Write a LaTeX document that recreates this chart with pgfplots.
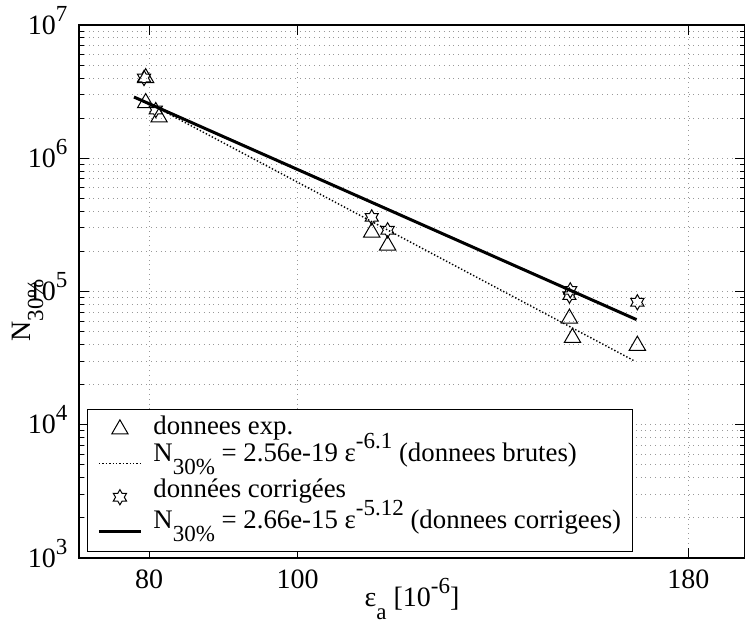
\documentclass[border=0pt]{standalone}
\usepackage{fontspec}
\setmainfont{Liberation Serif}
\usepackage{pgfplots}
\pgfplotsset{compat=1.18}

% six-pointed star outline (matlab 'hexagram')
\pgfdeclareplotmark{hexagram}{%
  \pgfpathmoveto{\pgfpointpolar{90}{\pgfplotmarksize}}%
  \pgfpathlineto{\pgfpointpolar{120}{0.577\pgfplotmarksize}}%
  \pgfpathlineto{\pgfpointpolar{150}{\pgfplotmarksize}}%
  \pgfpathlineto{\pgfpointpolar{180}{0.577\pgfplotmarksize}}%
  \pgfpathlineto{\pgfpointpolar{210}{\pgfplotmarksize}}%
  \pgfpathlineto{\pgfpointpolar{240}{0.577\pgfplotmarksize}}%
  \pgfpathlineto{\pgfpointpolar{270}{\pgfplotmarksize}}%
  \pgfpathlineto{\pgfpointpolar{300}{0.577\pgfplotmarksize}}%
  \pgfpathlineto{\pgfpointpolar{330}{\pgfplotmarksize}}%
  \pgfpathlineto{\pgfpointpolar{0}{0.577\pgfplotmarksize}}%
  \pgfpathlineto{\pgfpointpolar{30}{\pgfplotmarksize}}%
  \pgfpathlineto{\pgfpointpolar{60}{0.577\pgfplotmarksize}}%
  \pgfpathclose
  \pgfusepathqstroke
}

\pgfplotsset{
  markleg/.style={legend image code/.code={\draw[##1] plot coordinates {(10.5pt,0pt)};}},
  lineleg/.style={legend image code/.code={\draw[##1] (0pt,0pt) -- (21pt,0pt);}},
}

\newcommand\lf{\fontsize{14}{16}\selectfont}
\newcommand\legf{\fontsize{13.4}{15}\selectfont}
\newcommand\sub[1]{\smash{\raisebox{-6.5pt}{\fontsize{11.5}{12}\selectfont #1}}}
\newcommand\sups[1]{\smash{\raisebox{6.5pt}{\fontsize{11.5}{12}\selectfont #1}}}

\begin{document}
\lf
\begin{tikzpicture}
  \begin{axis}[
      name=ax,
      at={(0,0)}, anchor=south west,
      scale only axis,
      width=333pt, height=266.5pt,
      xmode=log, ymode=log,
      xmin=72, xmax=196, ymin=1e3, ymax=1e7,
      xtick={80,100,180}, xticklabels={80,100,180},
      ytick={1e3,1e4,1e5,1e6,1e7},
      yticklabels={10\sups{3},10\sups{4},10\sups{5},10\sups{6},10\sups{7}},
      minor ytick={2e3,3e3,4e3,5e3,6e3,7e3,8e3,9e3,
                   2e4,3e4,4e4,5e4,6e4,7e4,8e4,9e4,
                   2e5,3e5,4e5,5e5,6e5,7e5,8e5,9e5,
                   2e6,3e6,4e6,5e6,6e6,7e6,8e6,9e6},
      xmajorgrids, ymajorgrids, yminorgrids,
      grid style={dotted, gray!80, line width=0.5pt},
      major tick length=5pt, minor tick length=2.5pt,
      tick style={black, line width=0.5pt},
      axis line style={line width=0.7pt},
      tick label style={font=\lf},
      xticklabel style={yshift=-1pt},
      yticklabel style={xshift=-1pt},
      xlabel={ε\sub{a} [10\sups{-6}]},
      ylabel={N\sub{30\%}},
      xlabel style={at={([yshift=-24.5pt]axis description cs:0.5,0)}, anchor=base, font=\lf},
      ylabel style={at={([xshift=-24.5pt]axis description cs:0,0.465)}, anchor=base, font=\lf},
      legend cell align=left,
      legend style={at={(0.012,0.012)}, anchor=south west, font=\legf,
        draw=black, fill=white, inner xsep=5pt, inner ysep=1.5pt,
        row sep=0pt,
        /tikz/every odd column/.append style={column sep=5pt},
        nodes={inner sep=0.5pt, text height=10.5pt, text depth=5.5pt}},
    ]
    % donnees exp.
    \addplot[black, only marks, mark=triangle, mark size=4.7pt,
      mark options={line width=0.5pt}, markleg]
      coordinates {
        (79.6,4.0e6) (79.6,2.6e6) (81.2,2.03e6)
        (111.8,2.78e5) (114.5,2.22e5)
        (150.5,6.27e4) (151.2,4.5e4) (166.7,3.93e4)
      };
    \addlegendentry{donnees exp.}
    % fit donnees brutes
    \addplot[black, densely dotted, line width=0.7pt, lineleg]
      coordinates {(79.6,2.66e6) (165.8,3.03e4)};
    \addlegendentry{\raisebox{3.5pt}{N\sub{30\%} = 2.56e-19 ε\sups{-6.1} (donnees brutes)}}
    % donnees corrigees
    \addplot[black, only marks, mark=hexagram, mark size=3.8pt,
      mark options={line width=0.5pt}, markleg]
      coordinates {
        (79.4,4.0e6) (80.8,2.3e6)
        (111.8,3.6e5) (114.5,2.88e5)
        (150.7,1.02e5) (150.5,9.3e4) (166.7,8.3e4)
      };
    \addlegendentry{\raisebox{2.5pt}{données corrigées}}
    % fit donnees corrigees
    \addplot[black, solid, line width=1.5pt, lineleg]
      coordinates {(78.2,2.88e6) (166.5,6.15e4)};
    \addlegendentry{\raisebox{4pt}{N\sub{30\%} = 2.66e-15 ε\sups{-5.12} (donnees corrigees)}}
  \end{axis}
  \pgfresetboundingbox
  \path ([xshift=-39.5pt,yshift=-32pt]ax.south west) rectangle ([yshift=12.5pt]ax.north east);
\end{tikzpicture}
\end{document}
